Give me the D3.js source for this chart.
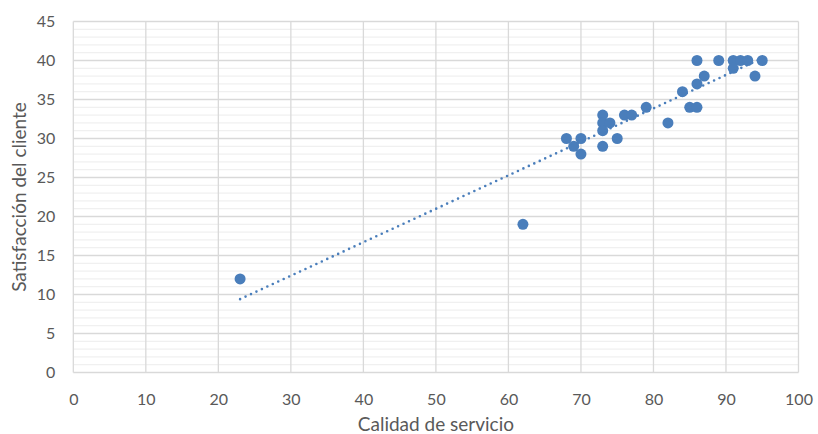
<!DOCTYPE html>
<html>
<head>
<meta charset="utf-8">
<script src="https://cdn.jsdelivr.net/npm/d3@7/dist/d3.min.js"></script>
<style>
  html, body { margin: 0; padding: 0; background: #fff; }
  svg { display: block; }
  text { font-family: Lato, "Open Sans", sans-serif; fill: #595959; }
</style>
</head>
<body>
<svg id="chart" width="818" height="434"></svg>
<script>
// Calidad de servicio (x) vs. satisfacción del cliente (y)
const calidad = [23, 62, 68, 69, 70, 70, 73, 73, 73, 73, 74, 75, 76, 77, 79, 82, 84, 85, 86, 86, 86, 87, 89, 91, 91, 92, 93, 94, 95];
const satisfaccion = [12, 19, 30, 29, 30, 28, 29, 33, 32, 31, 32, 30, 33, 33, 34, 32, 36, 34, 34, 37, 40, 38, 40, 40, 39, 40, 40, 38, 40];
const xTicks = [0, 10, 20, 30, 40, 50, 60, 70, 80, 90, 100];
const yTicks = [0, 5, 10, 15, 20, 25, 30, 35, 40, 45];
const xTitle = "Calidad de servicio";
const yTitle = "Satisfacción del cliente";

const svg = d3.select("#chart");
const plotLeft = 73.3, plotRight = 798.5, plotTop = 21.5, plotBottom = 372.5;

const x = d3.scaleLinear().domain([0, 100]).range([plotLeft, plotRight]);
const y = d3.scaleLinear().domain([0, 45]).range([plotBottom, plotTop]);

const points = calidad.map((c, i) => ({ x: c, y: satisfaccion[i] }));

// minor horizontal gridlines every unit
svg.append("g")
  .selectAll("line")
  .data(d3.range(0, 46).filter(v => v % 5 !== 0))
  .join("line")
  .attr("x1", plotLeft).attr("x2", plotRight)
  .attr("y1", d => y(d)).attr("y2", d => y(d))
  .attr("stroke", "#f0f0f0").attr("stroke-width", 1.2);

// major gridlines
svg.append("g")
  .selectAll("line")
  .data(yTicks)
  .join("line")
  .attr("x1", plotLeft).attr("x2", plotRight)
  .attr("y1", d => y(d)).attr("y2", d => y(d))
  .attr("stroke", "#d9d9d9").attr("stroke-width", 1.3);

svg.append("g")
  .selectAll("line")
  .data(xTicks)
  .join("line")
  .attr("x1", d => x(d)).attr("x2", d => x(d))
  .attr("y1", plotTop).attr("y2", plotBottom)
  .attr("stroke", "#d9d9d9").attr("stroke-width", 1.3);

// axes (labels only)
const xAxis = svg.append("g")
  .attr("transform", `translate(0,${plotBottom})`)
  .call(d3.axisBottom(x).tickValues(xTicks).tickSize(0).tickPadding(21));
xAxis.select(".domain").remove();
xAxis.selectAll("text").style("font-size", "16px").attr("fill", "#595959");

const yAxis = svg.append("g")
  .attr("transform", `translate(${plotLeft},0)`)
  .call(d3.axisLeft(y).tickValues(yTicks).tickSize(0).tickPadding(18));
yAxis.select(".domain").remove();
yAxis.selectAll("text").style("font-size", "16px").attr("fill", "#595959");

// linear trendline (least squares)
const mx = d3.mean(calidad), my = d3.mean(satisfaccion);
const slope = d3.sum(points, p => (p.x - mx) * (p.y - my)) / d3.sum(points, p => (p.x - mx) ** 2);
const intercept = my - slope * mx;
const x0 = d3.min(calidad), x1 = d3.max(calidad);

// markers
svg.append("g")
  .selectAll("circle")
  .data(points)
  .join("circle")
  .attr("cx", d => x(d.x))
  .attr("cy", d => y(d.y))
  .attr("r", 5.5)
  .attr("fill", "#4a7ebb");

svg.append("line")
  .attr("x1", x(x0)).attr("y1", y(intercept + slope * x0))
  .attr("x2", x(x1)).attr("y2", y(intercept + slope * x1))
  .attr("stroke", "#4a7ebb")
  .attr("stroke-width", 2.6)
  .attr("stroke-linecap", "round")
  .attr("stroke-dasharray", "0 6");

// titles
svg.append("text")
  .attr("x", (plotLeft + plotRight) / 2).attr("y", 431)
  .attr("text-anchor", "middle")
  .style("font-size", "19px")
  .text(xTitle);

svg.append("text")
  .attr("transform", `translate(26,${(plotTop + plotBottom) / 2}) rotate(-90)`)
  .attr("text-anchor", "middle")
  .style("font-size", "19px")
  .text(yTitle);
</script>
</body>
</html>
